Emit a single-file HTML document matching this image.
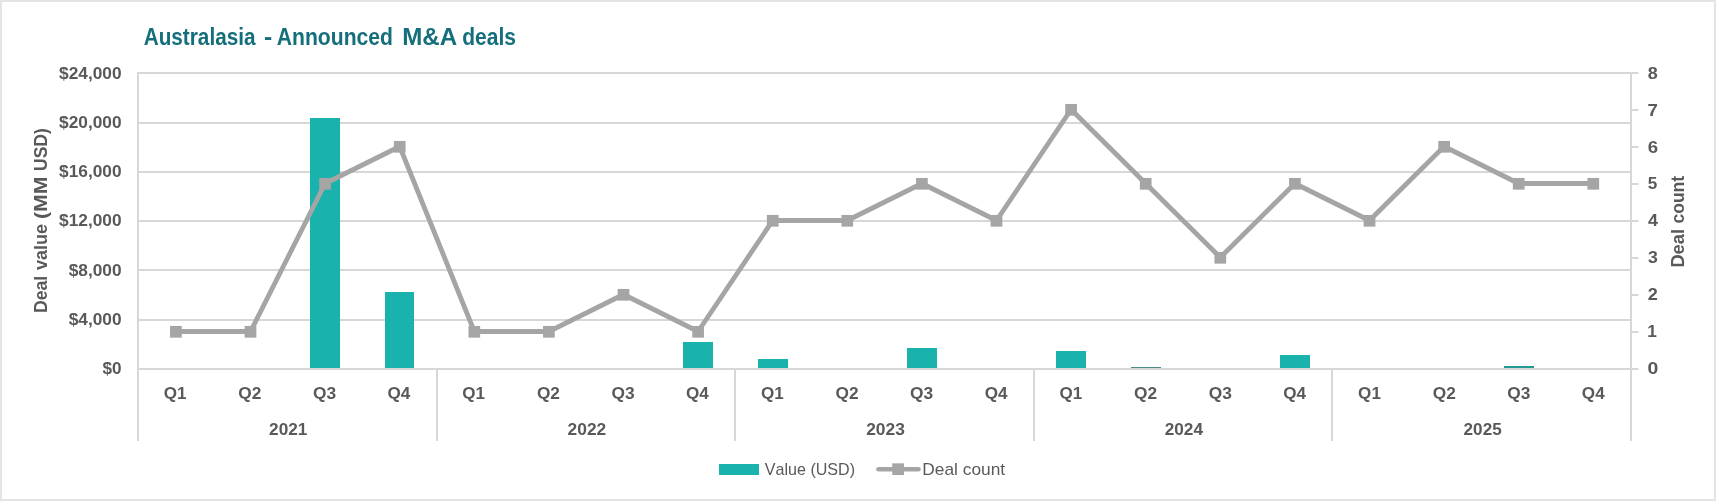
<!DOCTYPE html>
<html><head><meta charset="utf-8"><title>Australasia - Announced M&amp;A deals</title>
<style>html,body{margin:0;padding:0;background:#fff;overflow:hidden;}svg{display:block;will-change:transform;}</style>
</head><body>
<svg width="1716" height="501" viewBox="0 0 1716 501">
<rect x="1" y="1" width="1714" height="499" fill="#fff" stroke="#e4e4e4" stroke-width="2"/>
<line x1="138.00" y1="369.00" x2="1631.00" y2="369.00" stroke="#d7d7d7" stroke-width="2"/>
<line x1="138.00" y1="320.00" x2="1631.00" y2="320.00" stroke="#d7d7d7" stroke-width="2"/>
<line x1="138.00" y1="270.00" x2="1631.00" y2="270.00" stroke="#d7d7d7" stroke-width="2"/>
<line x1="138.00" y1="221.00" x2="1631.00" y2="221.00" stroke="#d7d7d7" stroke-width="2"/>
<line x1="138.00" y1="172.00" x2="1631.00" y2="172.00" stroke="#d7d7d7" stroke-width="2"/>
<line x1="138.00" y1="123.00" x2="1631.00" y2="123.00" stroke="#d7d7d7" stroke-width="2"/>
<line x1="138.00" y1="73.00" x2="1631.00" y2="73.00" stroke="#d7d7d7" stroke-width="2"/>
<line x1="1631.00" y1="369.00" x2="1638.50" y2="369.00" stroke="#d7d7d7" stroke-width="2"/>
<line x1="1631.00" y1="332.00" x2="1638.50" y2="332.00" stroke="#d7d7d7" stroke-width="2"/>
<line x1="1631.00" y1="295.00" x2="1638.50" y2="295.00" stroke="#d7d7d7" stroke-width="2"/>
<line x1="1631.00" y1="258.00" x2="1638.50" y2="258.00" stroke="#d7d7d7" stroke-width="2"/>
<line x1="1631.00" y1="221.00" x2="1638.50" y2="221.00" stroke="#d7d7d7" stroke-width="2"/>
<line x1="1631.00" y1="184.00" x2="1638.50" y2="184.00" stroke="#d7d7d7" stroke-width="2"/>
<line x1="1631.00" y1="147.00" x2="1638.50" y2="147.00" stroke="#d7d7d7" stroke-width="2"/>
<line x1="1631.00" y1="110.00" x2="1638.50" y2="110.00" stroke="#d7d7d7" stroke-width="2"/>
<line x1="1631.00" y1="73.00" x2="1638.50" y2="73.00" stroke="#d7d7d7" stroke-width="2"/>
<line x1="138.00" y1="72.00" x2="138.00" y2="441" stroke="#d7d7d7" stroke-width="2"/>
<line x1="1631.00" y1="72.00" x2="1631.00" y2="441" stroke="#d7d7d7" stroke-width="2"/>
<line x1="437.00" y1="369.00" x2="437.00" y2="441" stroke="#d7d7d7" stroke-width="2"/>
<line x1="735.00" y1="369.00" x2="735.00" y2="441" stroke="#d7d7d7" stroke-width="2"/>
<line x1="1034.00" y1="369.00" x2="1034.00" y2="441" stroke="#d7d7d7" stroke-width="2"/>
<line x1="1332.00" y1="369.00" x2="1332.00" y2="441" stroke="#d7d7d7" stroke-width="2"/>
<rect x="310" y="118" width="30" height="250" fill="#1ab2ad"/>
<rect x="385" y="292" width="29" height="76" fill="#1ab2ad"/>
<rect x="683" y="342" width="30" height="26" fill="#1ab2ad"/>
<rect x="758" y="359" width="30" height="9" fill="#1ab2ad"/>
<rect x="907" y="348" width="30" height="20" fill="#1ab2ad"/>
<rect x="1056" y="351" width="30" height="17" fill="#1ab2ad"/>
<rect x="1131" y="367" width="30" height="1" fill="#4c8c88"/>
<rect x="1280" y="355" width="30" height="13" fill="#1ab2ad"/>
<rect x="1504" y="366" width="30" height="2" fill="#249a94"/>
<polyline points="175.90,331.50 250.50,331.50 325.10,183.50 399.70,146.50 474.30,331.50 548.90,331.50 623.50,294.50 698.10,331.50 772.70,220.50 847.30,220.50 921.90,183.50 996.50,220.50 1071.10,109.50 1145.70,183.50 1220.30,257.50 1294.90,183.50 1369.50,220.50 1444.10,146.50 1518.70,183.50 1593.30,183.50" fill="none" stroke="#a5a5a5" stroke-width="4.8" stroke-linejoin="round" stroke-linecap="round"/>
<rect x="170.05" y="325.95" width="11.7" height="11.7" fill="#a5a5a5"/>
<rect x="244.65" y="325.95" width="11.7" height="11.7" fill="#a5a5a5"/>
<rect x="319.25" y="177.95" width="11.7" height="11.7" fill="#a5a5a5"/>
<rect x="393.85" y="140.95" width="11.7" height="11.7" fill="#a5a5a5"/>
<rect x="468.45" y="325.95" width="11.7" height="11.7" fill="#a5a5a5"/>
<rect x="543.05" y="325.95" width="11.7" height="11.7" fill="#a5a5a5"/>
<rect x="617.65" y="288.95" width="11.7" height="11.7" fill="#a5a5a5"/>
<rect x="692.25" y="325.95" width="11.7" height="11.7" fill="#a5a5a5"/>
<rect x="766.85" y="214.95" width="11.7" height="11.7" fill="#a5a5a5"/>
<rect x="841.45" y="214.95" width="11.7" height="11.7" fill="#a5a5a5"/>
<rect x="916.05" y="177.95" width="11.7" height="11.7" fill="#a5a5a5"/>
<rect x="990.65" y="214.95" width="11.7" height="11.7" fill="#a5a5a5"/>
<rect x="1065.25" y="103.95" width="11.7" height="11.7" fill="#a5a5a5"/>
<rect x="1139.85" y="177.95" width="11.7" height="11.7" fill="#a5a5a5"/>
<rect x="1214.45" y="251.95" width="11.7" height="11.7" fill="#a5a5a5"/>
<rect x="1289.05" y="177.95" width="11.7" height="11.7" fill="#a5a5a5"/>
<rect x="1363.65" y="214.95" width="11.7" height="11.7" fill="#a5a5a5"/>
<rect x="1438.25" y="140.95" width="11.7" height="11.7" fill="#a5a5a5"/>
<rect x="1512.85" y="177.95" width="11.7" height="11.7" fill="#a5a5a5"/>
<rect x="1587.45" y="177.95" width="11.7" height="11.7" fill="#a5a5a5"/>
<g font-family='"Liberation Sans", Arial, sans-serif' style="font-kerning:none">
<text x="102.52" y="373.90" font-size="16.8" font-weight="bold" fill="#595959" textLength="19.08" lengthAdjust="spacingAndGlyphs">$0</text>
<text x="68.73" y="324.72" font-size="16.8" font-weight="bold" fill="#595959" textLength="52.88" lengthAdjust="spacingAndGlyphs">$4,000</text>
<text x="68.73" y="275.54" font-size="16.8" font-weight="bold" fill="#595959" textLength="52.88" lengthAdjust="spacingAndGlyphs">$8,000</text>
<text x="59.10" y="226.36" font-size="16.8" font-weight="bold" fill="#595959" textLength="62.51" lengthAdjust="spacingAndGlyphs">$12,000</text>
<text x="59.10" y="177.18" font-size="16.8" font-weight="bold" fill="#595959" textLength="62.51" lengthAdjust="spacingAndGlyphs">$16,000</text>
<text x="59.10" y="128.00" font-size="16.8" font-weight="bold" fill="#595959" textLength="62.51" lengthAdjust="spacingAndGlyphs">$20,000</text>
<text x="59.10" y="78.82" font-size="16.8" font-weight="bold" fill="#595959" textLength="62.51" lengthAdjust="spacingAndGlyphs">$24,000</text>
<text x="1647.63" y="373.90" font-size="16.8" font-weight="bold" fill="#595959" textLength="10.82" lengthAdjust="spacingAndGlyphs">0</text>
<text x="1647.31" y="337.01" font-size="16.8" font-weight="bold" fill="#595959" textLength="9.61" lengthAdjust="spacingAndGlyphs">1</text>
<text x="1647.77" y="300.12" font-size="16.8" font-weight="bold" fill="#595959" textLength="10.09" lengthAdjust="spacingAndGlyphs">2</text>
<text x="1647.99" y="263.23" font-size="16.8" font-weight="bold" fill="#595959" textLength="9.84" lengthAdjust="spacingAndGlyphs">3</text>
<text x="1648.13" y="226.34" font-size="16.8" font-weight="bold" fill="#595959" textLength="9.97" lengthAdjust="spacingAndGlyphs">4</text>
<text x="1647.87" y="189.45" font-size="16.8" font-weight="bold" fill="#595959" textLength="9.52" lengthAdjust="spacingAndGlyphs">5</text>
<text x="1647.72" y="152.56" font-size="16.8" font-weight="bold" fill="#595959" textLength="10.34" lengthAdjust="spacingAndGlyphs">6</text>
<text x="1647.60" y="115.67" font-size="16.8" font-weight="bold" fill="#595959" textLength="10.39" lengthAdjust="spacingAndGlyphs">7</text>
<text x="1647.83" y="78.78" font-size="16.8" font-weight="bold" fill="#595959" textLength="10.02" lengthAdjust="spacingAndGlyphs">8</text>
<text x="163.72" y="398.70" font-size="16.8" font-weight="bold" fill="#595959" textLength="22.79" lengthAdjust="spacingAndGlyphs">Q1</text>
<text x="238.33" y="398.70" font-size="16.8" font-weight="bold" fill="#595959" textLength="23.07" lengthAdjust="spacingAndGlyphs">Q2</text>
<text x="312.91" y="398.70" font-size="16.8" font-weight="bold" fill="#595959" textLength="23.14" lengthAdjust="spacingAndGlyphs">Q3</text>
<text x="387.45" y="398.70" font-size="16.8" font-weight="bold" fill="#595959" textLength="22.83" lengthAdjust="spacingAndGlyphs">Q4</text>
<text x="462.32" y="398.70" font-size="16.8" font-weight="bold" fill="#595959" textLength="22.79" lengthAdjust="spacingAndGlyphs">Q1</text>
<text x="536.93" y="398.70" font-size="16.8" font-weight="bold" fill="#595959" textLength="23.07" lengthAdjust="spacingAndGlyphs">Q2</text>
<text x="611.51" y="398.70" font-size="16.8" font-weight="bold" fill="#595959" textLength="23.14" lengthAdjust="spacingAndGlyphs">Q3</text>
<text x="686.05" y="398.70" font-size="16.8" font-weight="bold" fill="#595959" textLength="22.83" lengthAdjust="spacingAndGlyphs">Q4</text>
<text x="760.92" y="398.70" font-size="16.8" font-weight="bold" fill="#595959" textLength="22.79" lengthAdjust="spacingAndGlyphs">Q1</text>
<text x="835.53" y="398.70" font-size="16.8" font-weight="bold" fill="#595959" textLength="23.07" lengthAdjust="spacingAndGlyphs">Q2</text>
<text x="910.11" y="398.70" font-size="16.8" font-weight="bold" fill="#595959" textLength="23.14" lengthAdjust="spacingAndGlyphs">Q3</text>
<text x="984.65" y="398.70" font-size="16.8" font-weight="bold" fill="#595959" textLength="22.83" lengthAdjust="spacingAndGlyphs">Q4</text>
<text x="1059.52" y="398.70" font-size="16.8" font-weight="bold" fill="#595959" textLength="22.79" lengthAdjust="spacingAndGlyphs">Q1</text>
<text x="1134.13" y="398.70" font-size="16.8" font-weight="bold" fill="#595959" textLength="23.07" lengthAdjust="spacingAndGlyphs">Q2</text>
<text x="1208.71" y="398.70" font-size="16.8" font-weight="bold" fill="#595959" textLength="23.14" lengthAdjust="spacingAndGlyphs">Q3</text>
<text x="1283.25" y="398.70" font-size="16.8" font-weight="bold" fill="#595959" textLength="22.83" lengthAdjust="spacingAndGlyphs">Q4</text>
<text x="1358.12" y="398.70" font-size="16.8" font-weight="bold" fill="#595959" textLength="22.79" lengthAdjust="spacingAndGlyphs">Q1</text>
<text x="1432.73" y="398.70" font-size="16.8" font-weight="bold" fill="#595959" textLength="23.07" lengthAdjust="spacingAndGlyphs">Q2</text>
<text x="1507.31" y="398.70" font-size="16.8" font-weight="bold" fill="#595959" textLength="23.14" lengthAdjust="spacingAndGlyphs">Q3</text>
<text x="1581.85" y="398.70" font-size="16.8" font-weight="bold" fill="#595959" textLength="22.83" lengthAdjust="spacingAndGlyphs">Q4</text>
<text x="269.07" y="434.80" font-size="16.8" font-weight="bold" fill="#595959" textLength="38.34" lengthAdjust="spacingAndGlyphs">2021</text>
<text x="567.64" y="434.80" font-size="16.8" font-weight="bold" fill="#595959" textLength="38.62" lengthAdjust="spacingAndGlyphs">2022</text>
<text x="866.17" y="434.80" font-size="16.8" font-weight="bold" fill="#595959" textLength="38.68" lengthAdjust="spacingAndGlyphs">2023</text>
<text x="1164.66" y="434.80" font-size="16.8" font-weight="bold" fill="#595959" textLength="38.38" lengthAdjust="spacingAndGlyphs">2024</text>
<text x="1463.60" y="434.80" font-size="16.8" font-weight="bold" fill="#595959" textLength="38.08" lengthAdjust="spacingAndGlyphs">2025</text>
<text x="-1.18" y="0.00" font-size="18.3" font-weight="bold" fill="#595959" textLength="37.33" lengthAdjust="spacingAndGlyphs" transform="translate(46.6,311.9) rotate(-90)">Deal</text>
<text x="41.83" y="0.00" font-size="18.3" font-weight="bold" fill="#595959" textLength="46.19" lengthAdjust="spacingAndGlyphs" transform="translate(46.6,311.9) rotate(-90)">value</text>
<text x="92.84" y="0.00" font-size="18.3" font-weight="bold" fill="#595959" textLength="42.48" lengthAdjust="spacingAndGlyphs" transform="translate(46.6,311.9) rotate(-90)">(MM</text>
<text x="140.85" y="0.00" font-size="18.3" font-weight="bold" fill="#595959" textLength="42.93" lengthAdjust="spacingAndGlyphs" transform="translate(46.6,311.9) rotate(-90)">USD)</text>
<text x="-1.23" y="0.00" font-size="18.3" font-weight="bold" fill="#595959" textLength="38.72" lengthAdjust="spacingAndGlyphs" transform="translate(1684.2,266.4) rotate(-90)">Deal</text>
<text x="42.81" y="0.00" font-size="18.3" font-weight="bold" fill="#595959" textLength="47.80" lengthAdjust="spacingAndGlyphs" transform="translate(1684.2,266.4) rotate(-90)">count</text>
<text x="143.68" y="44.75" font-size="23" font-weight="bold" fill="#156e7b" textLength="111.89" lengthAdjust="spacingAndGlyphs">Australasia</text>
<text x="263.93" y="44.75" font-size="23" font-weight="bold" fill="#156e7b" textLength="8.26" lengthAdjust="spacingAndGlyphs">-</text>
<text x="276.77" y="44.75" font-size="23" font-weight="bold" fill="#156e7b" textLength="116.22" lengthAdjust="spacingAndGlyphs">Announced</text>
<text x="402.19" y="44.75" font-size="23" font-weight="bold" fill="#156e7b" textLength="54.95" lengthAdjust="spacingAndGlyphs">M&amp;A</text>
<text x="462.24" y="44.75" font-size="23" font-weight="bold" fill="#156e7b" textLength="53.72" lengthAdjust="spacingAndGlyphs">deals</text>
<rect x="719" y="464" width="40" height="11" fill="#1ab2ad"/>
<text x="764.83" y="474.80" font-size="17" fill="#595959" textLength="90.17" lengthAdjust="spacingAndGlyphs">Value (USD)</text>
<line x1="878.5" y1="469.2" x2="918.5" y2="469.2" stroke="#a5a5a5" stroke-width="4.6" stroke-linecap="round"/>
<rect x="892.25" y="463.35" width="11.7" height="11.7" fill="#a5a5a5"/>
<text x="922.38" y="474.80" font-size="17" fill="#595959" textLength="82.75" lengthAdjust="spacingAndGlyphs">Deal count</text>
</g>
</svg>
</body></html>
